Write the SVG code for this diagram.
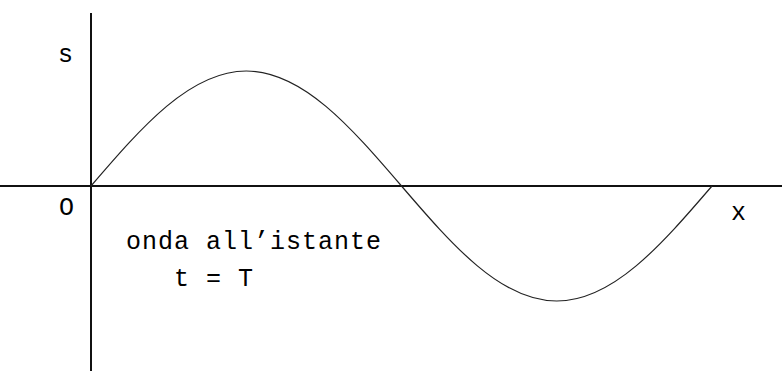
<svg xmlns="http://www.w3.org/2000/svg" width="782" height="371" viewBox="0 0 782 371">
<style>
.axis{stroke:#111;stroke-width:2;fill:none}
.wave{stroke:#222;stroke-width:1.2;fill:none}
.lbl{font-family:"Liberation Mono","Courier New",monospace;font-size:25px;fill:#000}
</style>
<rect width="782" height="371" fill="#fff"/>
<g id="axes">
<line class="axis" x1="91" y1="13" x2="91" y2="371"/>
<line class="axis" x1="0" y1="186" x2="782" y2="186"/>
</g>
<g id="wave">
<path class="wave" d="M91,186 C141.66,127.05 190.07,71 246.25,71 C302.43,71 350.84,127.05 401.5,186 C452.16,244.95 500.57,301 556.75,301 C612.93,301 661.34,244.95 712,186"/>
</g>
<g id="labels">
<text class="lbl" x="58" y="62">s</text>
<text class="lbl" x="59" y="215">O</text>
<text class="lbl" x="731" y="220">x</text>
<text class="lbl" x="126" y="249" letter-spacing="1">onda all’istante</text>
<text class="lbl" x="174" y="286" letter-spacing="1">t = T</text>
</g>
</svg>
